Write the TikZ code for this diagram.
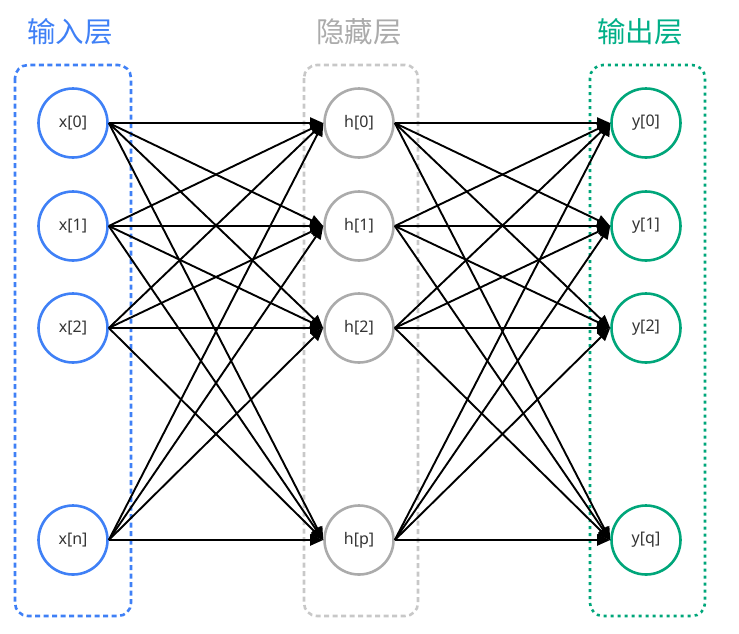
\documentclass[tikz,border=0pt]{standalone}
\usepackage{fontspec}
\setmainfont{Noto Sans}
\newfontfamily\cjk{Noto Sans CJK SC}
\usetikzlibrary{arrows.meta,positioning,calc}

\definecolor{inblue}{HTML}{3F80F6}
\definecolor{hidgray}{HTML}{ABABAB}
\definecolor{outgreen}{HTML}{00A67A}
\definecolor{boxgray}{HTML}{C8C8C8}

\begin{document}
\begin{tikzpicture}[x=1pt, y=1pt, node distance=286pt, on grid,
    neuron/.style={circle, draw, line width=2.6pt, minimum size=69pt, inner sep=0pt,
      text=black!80, font=\fontsize{16}{16}\selectfont},
    layertitle/.style={font=\cjk\fontsize{28.5}{28.5}\selectfont},
    layerbox/.style={line width=2.6pt, rounded corners=13pt},
    conn/.style={-{Triangle[length=13pt, width=11pt]}, line width=1.9pt}]
  \useasboundingbox (0,0) rectangle (739,-633);
  % input layer
  \node[neuron, draw=inblue] (x0) at (73,-123) {x[0]};
  \node[neuron, draw=inblue, below=103pt of x0] (x1) {x[1]};
  \node[neuron, draw=inblue, below=102pt of x1] (x2) {x[2]};
  \node[neuron, draw=inblue, below=212pt of x2] (xn) {x[n]};
  % hidden layer
  \node[neuron, draw=hidgray, right=of x0] (h0) {h[0]};
  \node[neuron, draw=hidgray, right=of x1] (h1) {h[1]};
  \node[neuron, draw=hidgray, right=of x2] (h2) {h[2]};
  \node[neuron, draw=hidgray, right=of xn] (hp) {h[p]};
  % output layer
  \node[neuron, draw=outgreen, right=287pt of h0] (y0) {y[0]};
  \node[neuron, draw=outgreen, right=287pt of h1] (y1) {y[1]};
  \node[neuron, draw=outgreen, right=287pt of h2] (y2) {y[2]};
  \node[neuron, draw=outgreen, right=287pt of hp] (yq) {y[q]};

  \draw[layerbox, inblue, dash pattern=on 5pt off 3.5pt]
    ($(x0)+(-58pt,58pt)$) rectangle ($(xn)+(58pt,-76pt)$);
  \draw[layerbox, boxgray, dash pattern=on 5pt off 3.5pt]
    ($(h0)+(-55pt,58pt)$) rectangle ($(hp)+(59pt,-76pt)$);
  \draw[layerbox, outgreen, dash pattern=on 3pt off 4pt]
    ($(y0)+(-56pt,58pt)$) rectangle ($(yq)+(59pt,-76pt)$);

  \node[layertitle, text=inblue, above=91pt of x0, xshift=-3pt] (tin) {输入层};
  \node[layertitle, text=hidgray, above=91pt of h0] (thid) {隐藏层};
  \node[layertitle, text=outgreen!90!cyan, above=91pt of y0, xshift=-6pt] (tout) {输出层};

  \path[conn]
    (x0.east) edge (h0.west) edge (h1.west) edge (h2.west) edge (hp.west)
    (x1.east) edge (h0.west) edge (h1.west) edge (h2.west) edge (hp.west)
    (x2.east) edge (h0.west) edge (h1.west) edge (h2.west) edge (hp.west)
    (xn.east) edge (h0.west) edge (h1.west) edge (h2.west) edge (hp.west)
    (h0.east) edge (y0.west) edge (y1.west) edge (y2.west) edge (yq.west)
    (h1.east) edge (y0.west) edge (y1.west) edge (y2.west) edge (yq.west)
    (h2.east) edge (y0.west) edge (y1.west) edge (y2.west) edge (yq.west)
    (hp.east) edge (y0.west) edge (y1.west) edge (y2.west) edge (yq.west);
\end{tikzpicture}
\end{document}
